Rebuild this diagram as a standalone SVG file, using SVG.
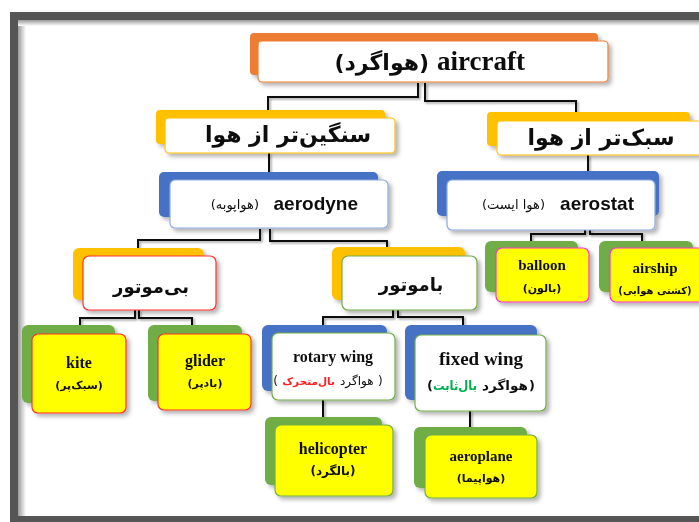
<svg xmlns="http://www.w3.org/2000/svg" width="699" height="522" viewBox="0 0 699 522">
<defs>
<filter id="sh" x="-10%" y="-10%" width="125%" height="130%">
<feDropShadow dx="3" dy="3" stdDeviation="2" flood-color="#000" flood-opacity="0.3"/>
</filter>
<filter id="lsh" x="-20%" y="-20%" width="140%" height="140%">
<feDropShadow dx="1.5" dy="1.5" stdDeviation="0.8" flood-color="#000" flood-opacity="0.4"/>
</filter>
<linearGradient id="lg" x1="0" x2="1" y1="0" y2="0">
<stop offset="0" stop-color="#9a9a9a"/><stop offset="1" stop-color="#ffffff"/>
</linearGradient>
<linearGradient id="tg" x1="0" x2="0" y1="0" y2="1">
<stop offset="0" stop-color="#9a9a9a"/><stop offset="1" stop-color="#ffffff"/>
</linearGradient>
</defs>
<style>
.conn{fill:none;stroke:#111;stroke-width:2;}
.ser{font-family:'Liberation Serif','DejaVu Sans',serif;font-weight:bold;fill:#111;}
.san{font-family:'Liberation Sans','DejaVu Sans',sans-serif;font-weight:bold;fill:#111;}
.fa{font-family:'DejaVu Sans',sans-serif;fill:#111;}
.red{fill:#FF2020;}
.grn{fill:#00B050;}
.orange{fill:#ED7D31;}
.gold{fill:#FFC000;}
.blue{fill:#4472C4;}
.green{fill:#70AD47;}
.w-or{fill:#fff;stroke:#ED7D31;stroke-width:1.2;}
.w-go{fill:#fff;stroke:#FFC000;stroke-width:1.2;}
.w-bl{fill:#fff;stroke:#8EAADB;stroke-width:1.2;}
.w-rd{fill:#fff;stroke:#FF3030;stroke-width:1.2;}
.w-gr{fill:#fff;stroke:#70AD47;stroke-width:1.2;}
.y-rd{fill:#FFFF00;stroke:#FF3030;stroke-width:1.2;}
.y-gr{fill:#FFFF00;stroke:#70AD47;stroke-width:1.2;}
.y-mg{fill:#FFFF00;stroke:#FF33CC;stroke-width:1.2;}
</style>
<rect x="0" y="0" width="699" height="522" fill="#fff"/>
<g id="frame">
<rect x="18" y="20" width="8" height="496" fill="url(#lg)"/>
<rect x="18" y="20" width="681" height="6" fill="url(#tg)"/>
<rect x="10" y="12" width="689" height="8" fill="#555"/>
<rect x="10" y="12" width="8" height="510" fill="#555"/>
<rect x="10" y="516" width="689" height="6" fill="#555"/>
</g>
<g id="connectors" filter="url(#lsh)">
<path class="conn" d="M418,83 V97 H268 V110"/>
<path class="conn" d="M425,83 V101 H576 V113"/>
<path class="conn" d="M269,153 V172"/>
<path class="conn" d="M588,155 V172"/>
<path class="conn" d="M260,229 V240 H138 V248"/>
<path class="conn" d="M270,229 V241 H387 V247"/>
<path class="conn" d="M135,310 V318 H80 V325"/>
<path class="conn" d="M139,310 V318 H192 V325"/>
<path class="conn" d="M393,310 V317 H323 V325"/>
<path class="conn" d="M398,310 V317 H463 V325"/>
<path class="conn" d="M323,400 V417"/>
<path class="conn" d="M470,411 V427"/>
<path class="conn" d="M585,230 V234 H531 V241"/>
<path class="conn" d="M590,230 V234 H642 V241"/>
</g>
<g id="aircraft" filter="url(#sh)">
<rect class="orange" x="250" y="33" width="348" height="42" rx="4"/>
<rect class="w-or" x="258" y="41" width="350" height="41" rx="4"/>
<text class="ser" x="437" y="70" font-size="27">aircraft</text>
<text class="fa" x="429" y="70" font-size="22" font-weight="bold" text-anchor="end">(هواگرد)</text>
</g>
<g id="heavier" filter="url(#sh)">
<rect class="gold" x="156" y="110" width="229" height="34" rx="4"/>
<rect class="w-go" x="165" y="118" width="230" height="35" rx="4"/>
<text class="fa" x="288" y="142" font-size="22" font-weight="bold" text-anchor="middle">سنگین‌تر از هوا</text>
</g>
<g id="lighter" filter="url(#sh)">
<rect class="gold" x="487" y="112" width="203" height="34" rx="4"/>
<rect class="w-go" x="497" y="121" width="210" height="34" rx="4"/>
<text class="fa" x="601" y="145" font-size="22" font-weight="bold" text-anchor="middle">سبک‌تر از هوا</text>
</g>
<g id="aerodyne" filter="url(#sh)">
<rect class="blue" x="159" y="172" width="219" height="45" rx="5"/>
<rect class="w-bl" x="170" y="180" width="218" height="48" rx="5"/>
<text class="san" x="358" y="210" font-size="19" text-anchor="end">aerodyne</text>
<text class="fa" x="259" y="209" font-size="13" text-anchor="end">(هواپوبه)</text>
</g>
<g id="aerostat" filter="url(#sh)">
<rect class="blue" x="437" y="171" width="222" height="45" rx="5"/>
<rect class="w-bl" x="447" y="180" width="208" height="50" rx="5"/>
<text class="san" x="634" y="210" font-size="19" text-anchor="end">aerostat</text>
<text class="fa" x="545" y="209" font-size="13" text-anchor="end">(هوا ایست)</text>
</g>
<g id="no-engine" filter="url(#sh)">
<rect class="gold" x="73" y="248" width="131" height="52" rx="6"/>
<rect class="w-rd" x="83" y="256" width="133" height="54" rx="6"/>
<text class="fa" x="151" y="293" font-size="18" font-weight="bold" text-anchor="middle">بی‌موتور</text>
</g>
<g id="with-engine" filter="url(#sh)">
<rect class="gold" x="332" y="247" width="133" height="53" rx="6"/>
<rect class="w-gr" x="342" y="256" width="135" height="54" rx="6"/>
<text class="fa" x="411" y="291" font-size="18" font-weight="bold" text-anchor="middle">باموتور</text>
</g>
<g id="kite" filter="url(#sh)">
<rect class="green" x="22" y="325" width="93" height="78" rx="6"/>
<rect class="y-rd" x="32" y="334" width="94" height="79" rx="6"/>
<text class="ser" x="79" y="368" font-size="16" text-anchor="middle">kite</text>
<text class="fa" x="79" y="389" font-size="11" font-weight="bold" text-anchor="middle">(سبک‌پر)</text>
</g>
<g id="glider" filter="url(#sh)">
<rect class="green" x="148" y="325" width="94" height="76" rx="6"/>
<rect class="y-rd" x="158" y="334" width="93" height="76" rx="6"/>
<text class="ser" x="205" y="366" font-size="16" text-anchor="middle">glider</text>
<text class="fa" x="205" y="387" font-size="11" font-weight="bold" text-anchor="middle">(بادپر)</text>
</g>
<g id="rotary-wing" filter="url(#sh)">
<rect class="blue" x="262" y="325" width="125" height="66" rx="6"/>
<rect class="w-gr" x="272" y="333" width="123" height="67" rx="6"/>
<text class="ser" x="333" y="362" font-size="16" text-anchor="middle">rotary wing</text>
<text class="fa" x="278" y="385" font-size="12" text-anchor="end">(</text>
<text class="fa red" x="335" y="385" font-size="10.5" font-weight="bold" text-anchor="end">بال‌متحرک</text>
<text class="fa" x="340" y="385" font-size="12">هواگرد</text>
<text class="fa" x="378" y="385" font-size="12">)</text>
</g>
<g id="fixed-wing" filter="url(#sh)">
<rect class="blue" x="405" y="325" width="132" height="75" rx="6"/>
<rect class="w-gr" x="415" y="335" width="131" height="76" rx="6"/>
<text class="ser" x="481" y="365" font-size="19" text-anchor="middle">fixed wing</text>
<text class="fa" x="427" y="390" font-size="13" font-weight="bold">(</text>
<text class="fa grn" x="433" y="390" font-size="13" font-weight="bold" textLength="44" lengthAdjust="spacingAndGlyphs">بال‌ثابت</text>
<text class="fa" x="482" y="390" font-size="13" font-weight="bold" textLength="46" lengthAdjust="spacingAndGlyphs">هواگرد</text>
<text class="fa" x="529" y="390" font-size="13" font-weight="bold">)</text>
</g>
<g id="helicopter" filter="url(#sh)">
<rect class="green" x="265" y="417" width="117" height="68" rx="6"/>
<rect class="y-gr" x="275" y="425" width="118" height="71" rx="6"/>
<text class="ser" x="333" y="454" font-size="16" text-anchor="middle">helicopter</text>
<text class="fa" x="333" y="475" font-size="12" font-weight="bold" text-anchor="middle">(بالگرد)</text>
</g>
<g id="aeroplane" filter="url(#sh)">
<rect class="green" x="414" y="427" width="113" height="61" rx="6"/>
<rect class="y-gr" x="425" y="435" width="112" height="63" rx="6"/>
<text class="ser" x="481" y="461" font-size="15" text-anchor="middle">aeroplane</text>
<text class="fa" x="481" y="482" font-size="11" font-weight="bold" text-anchor="middle">(هواپیما)</text>
</g>
<g id="balloon" filter="url(#sh)">
<rect class="green" x="485" y="241" width="93" height="51" rx="6"/>
<rect class="y-mg" x="496" y="248" width="93" height="54" rx="6"/>
<text class="ser" x="542" y="270" font-size="15" text-anchor="middle">balloon</text>
<text class="fa" x="542" y="292" font-size="11" font-weight="bold" text-anchor="middle">(بالون)</text>
</g>
<g id="airship" filter="url(#sh)">
<rect class="green" x="599" y="241" width="94" height="51" rx="6"/>
<rect class="y-mg" x="610" y="248" width="95" height="54" rx="6"/>
<text class="ser" x="655" y="273" font-size="15" text-anchor="middle">airship</text>
<text class="fa" x="655" y="294" font-size="10" font-weight="bold" text-anchor="middle">(کشتی هوایی)</text>
</g>
</svg>
